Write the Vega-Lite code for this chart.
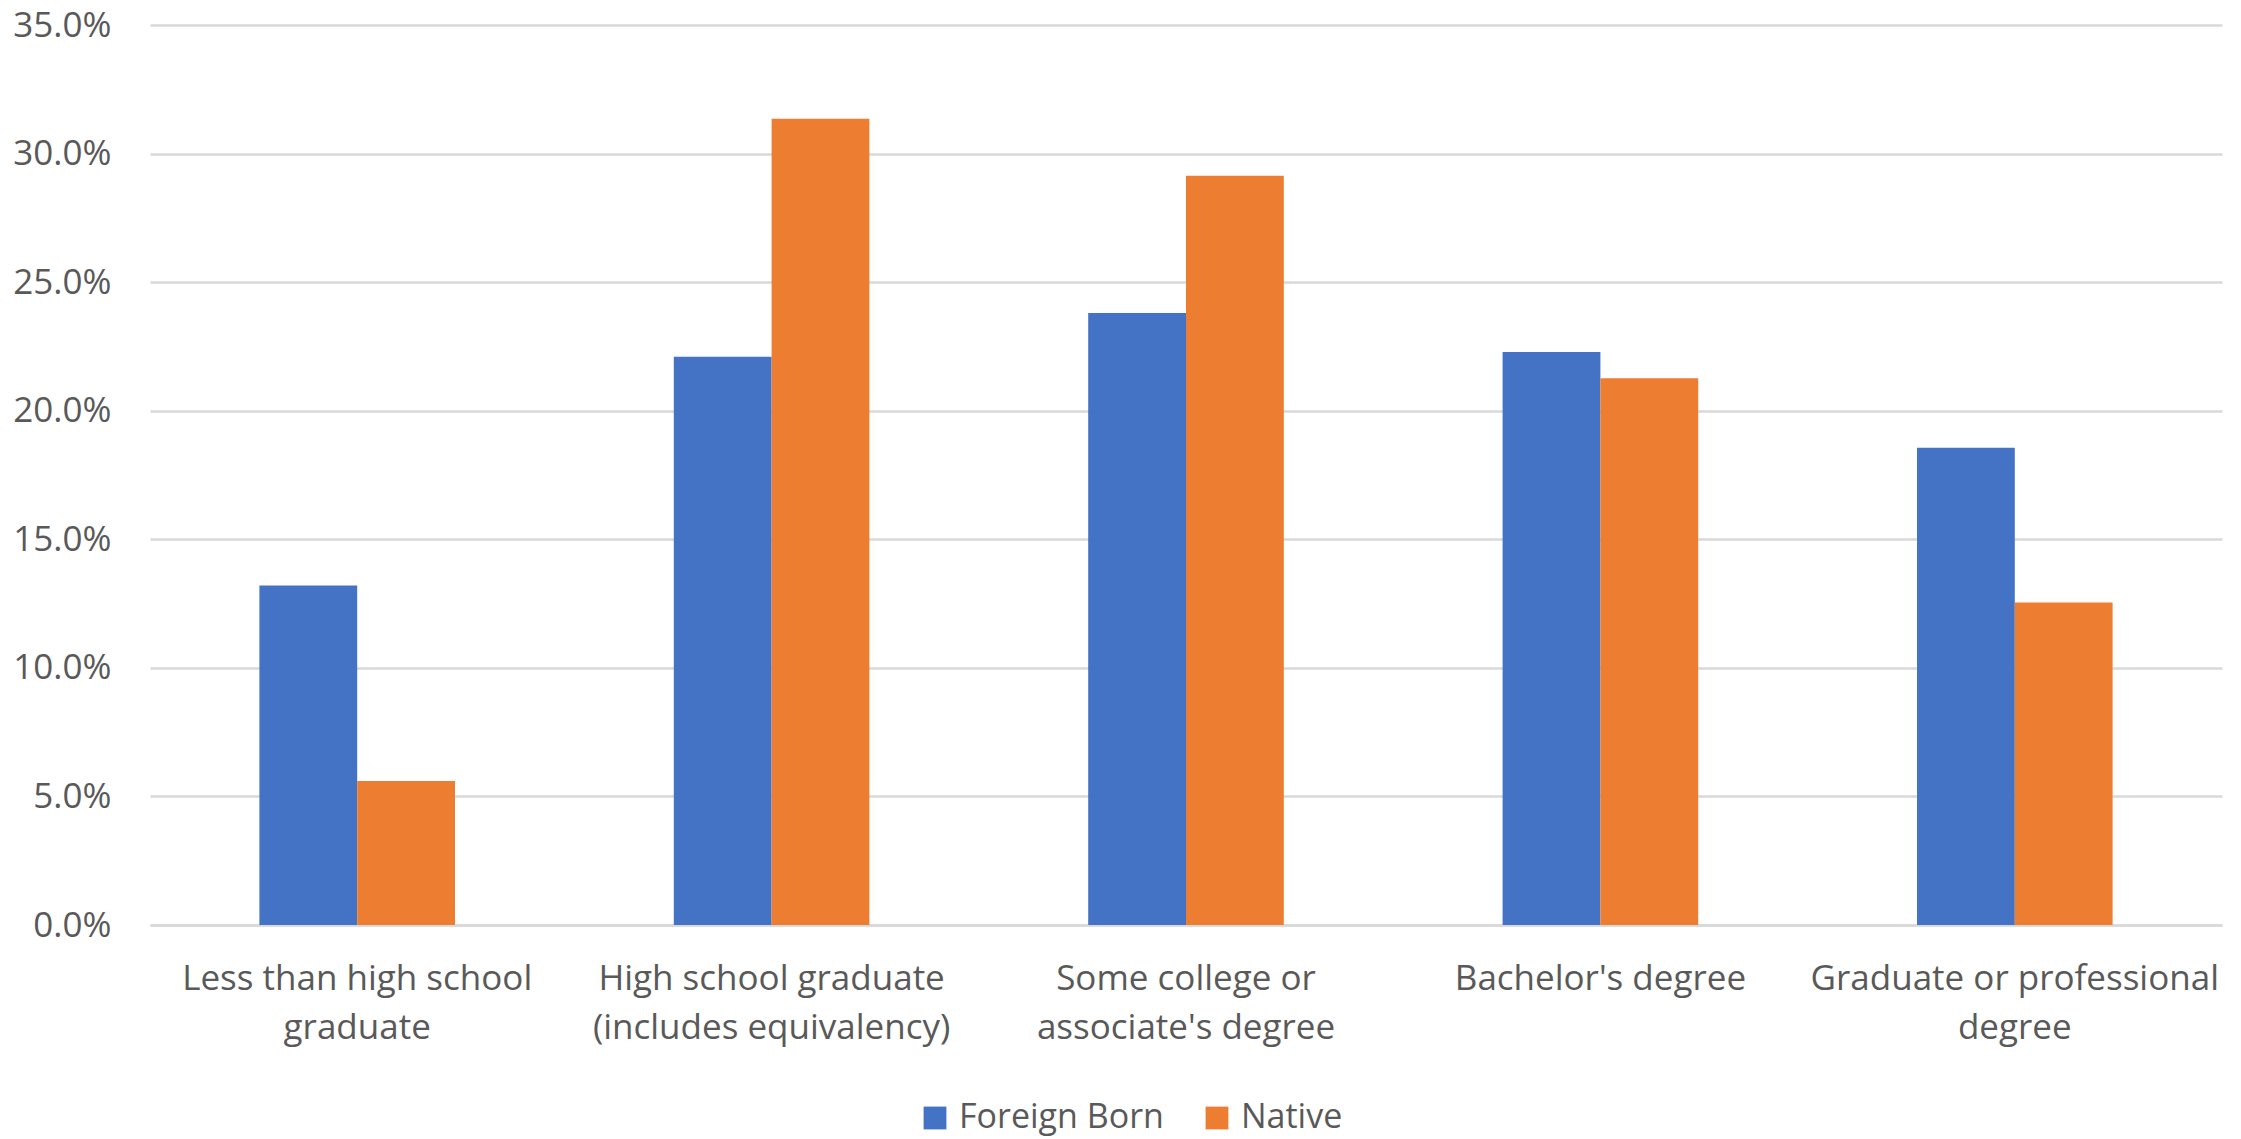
{
  "$schema": "https://vega.github.io/schema/vega-lite/v6.json",
  "autosize": {"type": "none"},
  "padding": {"left": 150, "top": 25, "right": 19, "bottom": 214},
  "width": 2072,
  "height": 900,
  "background": "white",
  "data": {
    "values": [
      {"education": "Less than high school graduate", "group": "Foreign Born", "share": 0.132},
      {"education": "Less than high school graduate", "group": "Native", "share": 0.056},
      {"education": "High school graduate (includes equivalency)", "group": "Foreign Born", "share": 0.221},
      {"education": "High school graduate (includes equivalency)", "group": "Native", "share": 0.3135},
      {"education": "Some college or associate's degree", "group": "Foreign Born", "share": 0.238},
      {"education": "Some college or associate's degree", "group": "Native", "share": 0.2914},
      {"education": "Bachelor's degree", "group": "Foreign Born", "share": 0.2228},
      {"education": "Bachelor's degree", "group": "Native", "share": 0.2126},
      {"education": "Graduate or professional degree", "group": "Foreign Born", "share": 0.1856},
      {"education": "Graduate or professional degree", "group": "Native", "share": 0.1254}
    ]
  },
  "mark": {"type": "bar"},
  "encoding": {
    "x": {
      "field": "education",
      "type": "nominal",
      "sort": null,
      "scale": {"paddingInner": 0.528, "paddingOuter": 0.264},
      "axis": {
        "title": null,
        "labelAngle": 0,
        "ticks": false,
        "domain": true,
        "domainColor": "#d9d9d9",
        "domainWidth": 2.5,
        "labelFont": "Open Sans",
        "labelFontSize": 35,
        "labelColor": "#595959",
        "labelPadding": 36,
        "labelLineHeight": 49.5,
        "labelBaseline": "top",
        "labelLimit": 0,
        "labelExpr": "datum.value == 'Less than high school graduate' ? ['Less than high school', 'graduate'] : datum.value == 'High school graduate (includes equivalency)' ? ['High school graduate', '(includes equivalency)'] : datum.value == \"Some college or associate's degree\" ? ['Some college or', \"associate's degree\"] : datum.value == 'Graduate or professional degree' ? ['Graduate or professional', 'degree'] : datum.value"
      }
    },
    "xOffset": {"field": "group", "type": "nominal", "scale": {"paddingInner": 0, "paddingOuter": 0}},
    "y": {
      "field": "share",
      "type": "quantitative",
      "scale": {"domain": [0, 0.35], "nice": false},
      "axis": {
        "title": null,
        "format": ".1%",
        "values": [0, 0.05, 0.1, 0.15, 0.2, 0.25, 0.3, 0.35],
        "domain": false,
        "ticks": false,
        "grid": true,
        "gridColor": "#d9d9d9",
        "gridWidth": 2.5,
        "labelFont": "Open Sans",
        "labelFontSize": 35,
        "labelColor": "#595959",
        "labelPadding": 39
      }
    },
    "color": {
      "field": "group",
      "type": "nominal",
      "scale": {"domain": ["Foreign Born", "Native"], "range": ["#4472C4", "#ED7D31"]},
      "legend": {
        "title": null,
        "orient": "none",
        "direction": "horizontal",
        "legendX": 768,
        "legendY": 1076,
        "symbolType": "square",
        "symbolSize": 520,
        "symbolStrokeWidth": 0,
        "labelFont": "Open Sans",
        "labelFontSize": 34,
        "labelColor": "#595959",
        "labelLimit": 0,
        "labelOffset": 7,
        "columnPadding": 36
      }
    }
  },
  "config": {"view": {"stroke": null}}
}
